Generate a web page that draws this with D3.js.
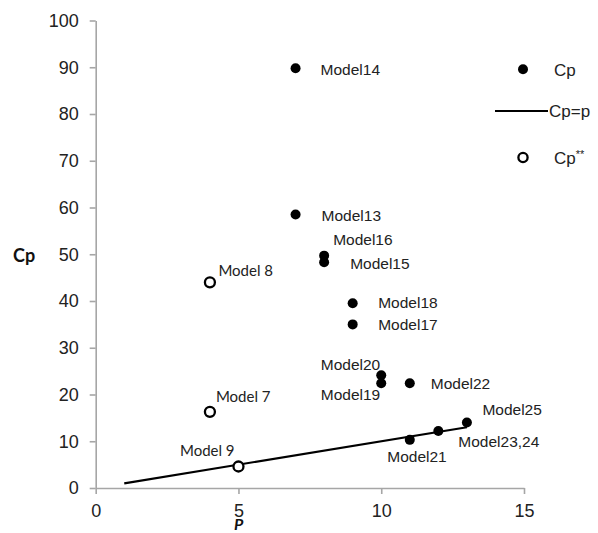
<!DOCTYPE html>
<html>
<head>
<meta charset="utf-8">
<script src="https://cdn.jsdelivr.net/npm/d3@7/dist/d3.min.js"></script>
<style>
  html, body { margin: 0; padding: 0; background: #fff; }
  svg { display: block; }
</style>
</head>
<body>
<svg id="chart" width="598" height="533"></svg>
<script>
// Mallows' Cp against number of parameters p
const cpModels = ["Model14", "Model13", "Model16", "Model15", "Model18", "Model17",
                  "Model20", "Model19", "Model22", "Model21", "Model23,24", "Model25"];
const cpP      = [7, 7, 8, 8, 9, 9, 10, 10, 11, 11, 12, 13];
const cpValues = [89.8, 58.5, 49.7, 48.3, 39.5, 35.0, 24.1, 22.4, 22.4, 10.3, 12.2, 14.0];

const cpStarModels = ["Model 8", "Model 7", "Model 9"];
const cpStarP      = [4, 4, 5];
const cpStarValues = [44.0, 16.3, 4.6];

// Reference line Cp = p
const refP = [1, 13];

const xTicks = [0, 5, 10, 15];
const yTicks = [0, 10, 20, 30, 40, 50, 60, 70, 80, 90, 100];

// Label placement relative to each point (px)
const cpLabelOffsets = {
  "Model14": [25, 7, "start"], "Model13": [26, 6.5, "start"],
  "Model16": [9, -11, "start"], "Model15": [26, 6.5, "start"],
  "Model18": [25.5, 4.5, "start"], "Model17": [25.5, 6, "start"],
  "Model20": [-1, -5, "end"], "Model19": [-1, 17, "end"],
  "Model22": [21, 6, "start"], "Model21": [-22.5, 22, "start"],
  "Model23,24": [20, 16, "start"], "Model25": [15.5, -7.5, "start"]
};
const cpStarLabelOffsets = {
  "Model 8": [8.5, -6.5, "start"], "Model 7": [6, -10, "start"],
  "Model 9": [-58.5, -10, "start"]
};

const svg = d3.select("#chart");
const x = d3.scaleLinear().domain([0, 15]).range([95.7, 524]);
const y = d3.scaleLinear().domain([0, 100]).range([488, 20.5]);

const sans = "'Liberation Sans', Arial, sans-serif";
const calibriLike = "Lato, 'Open Sans', sans-serif";
const axisGray = "#a6a6a6";

// Axes
const xAxis = svg.append("g")
  .attr("transform", `translate(0,${y(0)})`)
  .call(d3.axisBottom(x).tickValues(xTicks).tickSize(6).tickSizeOuter(0).tickPadding(10));
const yAxis = svg.append("g")
  .attr("transform", `translate(${x(0)},0)`)
  .call(d3.axisLeft(y).tickValues(yTicks).tickSize(6).tickSizeOuter(0).tickPadding(11));

[xAxis, yAxis].forEach(g => {
  g.select(".domain").attr("stroke", axisGray).attr("stroke-width", 1.6);
  g.selectAll(".tick line").attr("stroke", axisGray).attr("stroke-width", 1.6);
  g.selectAll(".tick text")
    .attr("fill", "#222")
    .style("font-family", sans)
    .style("font-size", "18px");
});

// Axis titles
svg.append("text")
  .attr("x", 13).attr("y", 261.5)
  .style("font-family", calibriLike).style("font-weight", "bold").style("font-size", "18px")
  .attr("fill", "#111")
  .text("Cp");
svg.append("text")
  .attr("x", 234).attr("y", 529.5)
  .style("font-family", calibriLike).style("font-weight", "bold").style("font-style", "italic")
  .style("font-size", "16px")
  .attr("fill", "#111")
  .text("P");

// Cp = p line
svg.append("line")
  .attr("x1", x(refP[0])).attr("y1", y(refP[0]))
  .attr("x2", x(refP[1])).attr("y2", y(refP[1]))
  .attr("stroke", "#000").attr("stroke-width", 2.2);

// Filled Cp points
const cpData = cpModels.map((m, i) => ({ m, p: cpP[i], v: cpValues[i] }));
svg.append("g").selectAll("circle").data(cpData).join("circle")
  .attr("cx", d => x(d.p)).attr("cy", d => y(d.v)).attr("r", 5)
  .attr("fill", "#000");
svg.append("g").selectAll("text").data(cpData).join("text")
  .attr("x", d => x(d.p) + cpLabelOffsets[d.m][0])
  .attr("y", d => y(d.v) + cpLabelOffsets[d.m][1])
  .attr("text-anchor", d => cpLabelOffsets[d.m][2])
  .style("font-family", sans).style("font-size", "15.5px")
  .attr("fill", "#222")
  .text(d => d.m);

// Open Cp** points
const starData = cpStarModels.map((m, i) => ({ m, p: cpStarP[i], v: cpStarValues[i] }));
svg.append("g").selectAll("circle").data(starData).join("circle")
  .attr("cx", d => x(d.p)).attr("cy", d => y(d.v)).attr("r", 5)
  .attr("fill", "#fff").attr("stroke", "#000").attr("stroke-width", 2.3);
svg.append("g").selectAll("text").data(starData).join("text")
  .attr("x", d => x(d.p) + cpStarLabelOffsets[d.m][0])
  .attr("y", d => y(d.v) + cpStarLabelOffsets[d.m][1])
  .attr("text-anchor", d => cpStarLabelOffsets[d.m][2])
  .style("font-family", calibriLike).style("font-size", "15px")
  .attr("fill", "#222")
  .text(d => d.m);

// Legend
const legend = svg.append("g").style("font-family", sans).style("font-size", "17px");
legend.append("circle").attr("cx", 523).attr("cy", 69.3).attr("r", 5).attr("fill", "#000");
legend.append("text").attr("x", 554).attr("y", 75.5).attr("fill", "#222").text("Cp");
legend.append("line").attr("x1", 495).attr("x2", 548).attr("y1", 111).attr("y2", 111)
  .attr("stroke", "#000").attr("stroke-width", 2.2);
legend.append("text").attr("x", 549).attr("y", 117).attr("fill", "#222").text("Cp=p");
legend.append("circle").attr("cx", 523).attr("cy", 157.5).attr("r", 4.6)
  .attr("fill", "#fff").attr("stroke", "#000").attr("stroke-width", 2.3);
const cpStarText = legend.append("text").attr("x", 554).attr("y", 163.5).attr("fill", "#222");
cpStarText.append("tspan").text("Cp");
cpStarText.append("tspan").attr("dy", -6).style("font-size", "11px").text("**");
</script>
</body>
</html>
